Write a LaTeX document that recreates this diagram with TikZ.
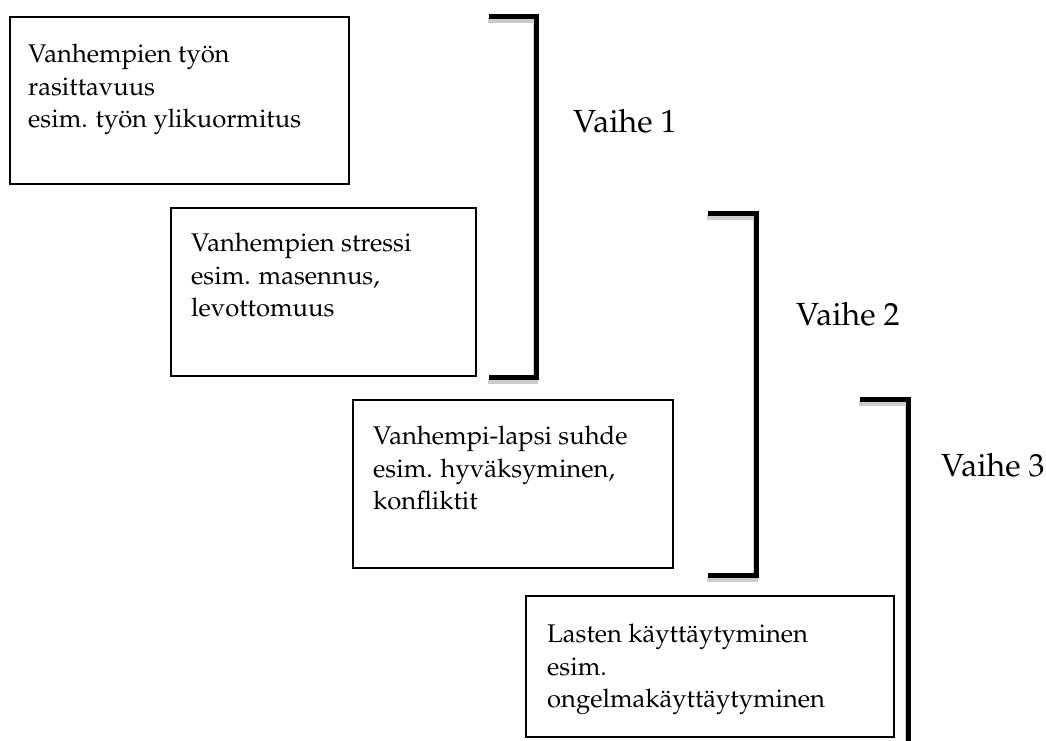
\documentclass[tikz,border=0pt]{standalone}
\usepackage[T1]{fontenc}
\usepackage{mathpazo}
\usetikzlibrary{positioning}

\begin{document}
\begin{tikzpicture}[x=1pt, y=-1pt,
    stagebox/.style={draw, line width=1.8pt, inner sep=0pt, anchor=north west},
    boxtext/.style={inner sep=0pt, align=left, font=\fontsize{25.6}{32.5}\selectfont},
    phase/.style={anchor=base west, inner sep=0pt, font=\fontsize{32}{38}\selectfont},
    bracket/.style={line width=5pt},
    bracketshadow/.style={line width=5pt, black!20, shift={(-1.5,4)}}]
    \useasboundingbox (0,0) rectangle (1046,740);

    % stage boxes
    \node[stagebox, minimum width=339pt, minimum height=167pt] (box1) at (9,16) {};
    \node[boxtext, below right=28pt and 19pt of box1.north west] (text1) {Vanhempien ty\"on\\rasittavuus\\esim. ty\"on ylikuormitus};

    \node[stagebox, minimum width=305pt, minimum height=168pt] (box2) at (170,207) {};
    \node[boxtext, below right=26pt and 21pt of box2.north west] (text2) {Vanhempien stressi\\esim. masennus,\\levottomuus};

    \node[stagebox, minimum width=320pt, minimum height=168pt] (box3) at (352,399) {};
    \node[boxtext, below right=27pt and 21pt of box3.north west] (text3) {Vanhempi-lapsi suhde\\esim. hyv\"aksyminen,\\konfliktit};

    \node[stagebox, minimum width=368pt, minimum height=141pt] (box4) at (525,595) {};
    \node[boxtext, below right=29pt and 22pt of box4.north west] (text4) {Lasten k\"aytt\"aytyminen\\esim.\\ongelmak\"aytt\"aytyminen};

    % brackets
    \draw[bracketshadow] (489,16.5) -- (536.5,16.5) -- (536.5,377.5) -- (489,377.5);
    \draw[bracket] (489,16.5) -- (536.5,16.5) -- (536.5,377.5) -- (489,377.5);
    \draw[bracketshadow] (708,213) -- (756.5,213) -- (756.5,575) -- (708,575);
    \draw[bracket] (708,213) -- (756.5,213) -- (756.5,575) -- (708,575);
    \draw[bracketshadow] (860,399.5) -- (908.5,399.5) -- (908.5,745);
    \draw[bracket] (860,399.5) -- (908.5,399.5) -- (908.5,745);

    \node[phase] (phase1) at (573,132) {Vaihe 1};
    \node[phase] (phase2) at (796,325) {Vaihe 2};
    \node[phase] (phase3) at (941,476) {Vaihe 3};
\end{tikzpicture}
\end{document}
